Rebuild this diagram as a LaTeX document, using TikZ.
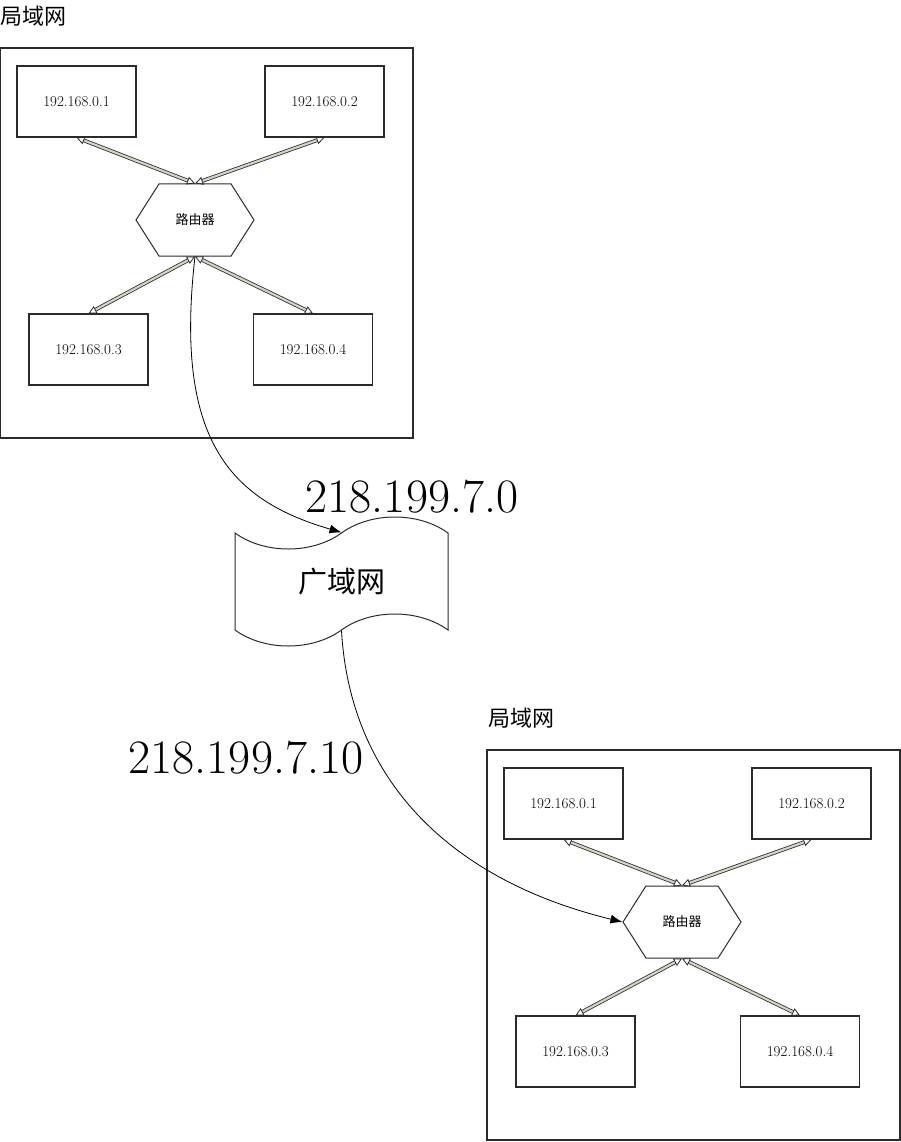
\documentclass[tikz,border=0pt]{standalone}
\usepackage{fontspec}
\newfontfamily\cjk{Noto Sans CJK SC}
\usetikzlibrary{arrows.meta,shapes.symbols}
\definecolor{edgegrey}{HTML}{2B2B2B}
\definecolor{linkfill}{HTML}{D6D3C2}
\tikzset{
  lanframe/.style = {draw=edgegrey, line width=1.2pt, minimum width=413pt,
                     minimum height=390pt, inner sep=0pt},
  hostbox/.style  = {draw=edgegrey, line width=1.1pt, minimum width=119pt,
                     minimum height=71pt, inner sep=0pt, font=\fontsize{15}{17}\selectfont},
  routerhex/.style= {signal, signal to=west and east, signal pointer angle=115,
                     draw=edgegrey, line width=1pt, minimum width=118pt,
                     minimum height=72pt, inner sep=0pt, font=\cjk\fontsize{13}{15}\selectfont},
  wanflag/.style  = {tape, draw=edgegrey, line width=1pt, tape bend height=32pt,
                     minimum width=213pt, minimum height=129pt, inner sep=0pt,
                     font=\cjk\fontsize{29}{31}\selectfont},
  lantitle/.style = {inner sep=0pt, font=\cjk\fontsize{22}{24}\selectfont},
  iplabel/.style  = {inner sep=0pt, font=\fontsize{48}{52}\selectfont},
  link/.style     = {{Triangle[open,length=8pt,width=8pt]}-{Triangle[open,length=8pt,width=8pt]},
                     draw=edgegrey, line width=0.8pt, double=linkfill, double distance=2.2pt},
  wire/.style     = {-{Latex[length=12pt,width=9pt]}, draw=black, line width=0.8pt},
}
\begin{document}
\begin{tikzpicture}[x=1pt,y=-1pt]
    \useasboundingbox (0,0) rectangle (900,1142);
    % first LAN
    \node[lantitle] (t1) at (34,16.5) {局域网};
    \node[lanframe] (lan1) at (206.5,243) {};
    \node[hostbox] (a1) at (76.5,101.5) {192.168.0.1};
    \node[hostbox] (a2) at (324.5,101.5) {192.168.0.2};
    \node[routerhex] (r1) at (195,220) {路由器};
    \node[hostbox] (a3) at (88.5,349.5) {192.168.0.3};
    \node[hostbox] (a4) at (313,349.5) {192.168.0.4};
    \draw[link] (a1.south) -- (r1.north);
    \draw[link] (a2.south) -- (r1.north);
    \draw[link] (r1.south) -- (a3.north);
    \draw[link] (r1.south) -- (a4.north);
    % wide area network
    \node[iplabel] (ip1) at (412,497) {218.199.7.0};
    \node[wanflag] (wan) at (341.5,581.5) {广域网};
    \node[iplabel] (ip2) at (246,758) {218.199.7.10};
    % second LAN
    \node[lantitle] (t2) at (521,718.5) {局域网};
    \node[lanframe] (lan2) at (693.5,945) {};
    \node[hostbox] (b1) at (563.5,803.5) {192.168.0.1};
    \node[hostbox] (b2) at (811.5,803.5) {192.168.0.2};
    \node[routerhex] (r2) at (682,922) {路由器};
    \node[hostbox] (b3) at (575.5,1051.5) {192.168.0.3};
    \node[hostbox] (b4) at (800,1051.5) {192.168.0.4};
    \draw[link] (b1.south) -- (r2.north);
    \draw[link] (b2.south) -- (r2.north);
    \draw[link] (r2.south) -- (b3.north);
    \draw[link] (r2.south) -- (b4.north);
    % uplinks
    \draw[wire] (r1.south) .. controls (174,440) and (230,500) .. (wan.north);
    \draw[wire] (wan.south) .. controls (350,780) and (450,880) .. (r2.west);
\end{tikzpicture}
\end{document}
